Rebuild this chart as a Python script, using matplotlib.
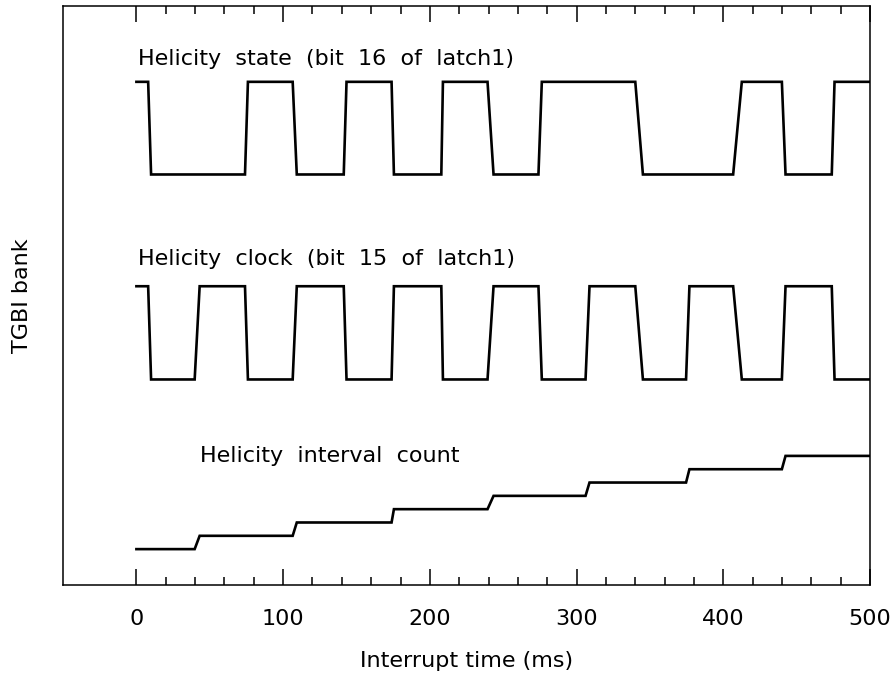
import numpy as np
import matplotlib.pyplot as plt

# sample times (ms) and the three TGBI signals
t = [0, 8, 10, 39.7, 43.1, 74, 76, 106.5, 109.3, 141.3, 143.2, 173.9, 175.5,
     207.8, 208.9, 239.3, 243.4, 274, 276.3, 306.1, 308.8, 340, 345.2, 374.6,
     376.9, 406.7, 412.6, 439.9, 442.4, 473.9, 475.8, 500]
state = [1, 1, 0, 0, 0, 0, 1, 1, 0, 0, 1, 1, 0, 0, 1, 1,
         0, 0, 1, 1, 1, 1, 0, 0, 0, 0, 1, 1, 0, 0, 1, 1]
clock = [1, 1, 0, 0, 1, 1, 0, 0, 1, 1, 0, 0, 1, 1, 0, 0,
         1, 1, 0, 0, 1, 1, 0, 0, 1, 1, 0, 0, 1, 1, 0, 0]
count = [0, 0, 0, 0, 1, 1, 1, 1, 2, 2, 2, 2, 3, 3, 3, 3,
         4, 4, 4, 4, 5, 5, 5, 5, 6, 6, 6, 6, 7, 7, 7, 7]

# pgplot-style wide word spacing
labels = ["Helicity  state  (bit  16  of  latch1)",
          "Helicity  clock  (bit  15  of  latch1)",
          "Helicity  interval  count"]
xticks = [0, 100, 200, 300, 400, 500]

t = np.array(t)
state = np.array(state)
clock = np.array(clock)
count = np.array(count)

fig = plt.figure(figsize=(8.93, 6.79), dpi=100)
ax = fig.add_axes([0.0706, 0.1384, 0.9037, 0.8528])

lw = 1.9
ax.plot(t, 70.9 + 16.0*state, color="black", lw=lw, solid_joinstyle="miter")
ax.plot(t, 35.5 + 16.1*clock, color="black", lw=lw, solid_joinstyle="miter")
ax.plot(t, 6.2 + 2.3*count, color="black", lw=lw, solid_joinstyle="miter")

fs = 16
ax.text(1, 89.8, labels[0], fontsize=fs, va="baseline", ha="left")
ax.text(1, 55.3, labels[1], fontsize=fs, va="baseline", ha="left")
ax.text(43.5, 21.3, labels[2], fontsize=fs, va="baseline", ha="left")

ax.set_xlim(-50, 500)
ax.set_ylim(0, 100)
ax.set_xticks(xticks)
ax.set_xticks(np.arange(0, 501, 20), minor=True)
ax.set_yticks([])
ax.tick_params(axis="x", which="both", direction="in", top=True, bottom=True,
               labelsize=fs, pad=17, width=1.1)
ax.tick_params(axis="x", which="major", length=11.5)
ax.tick_params(axis="x", which="minor", length=5.5)
for s in ax.spines.values():
    s.set_linewidth(1.1)

ax.set_xlabel("Interrupt time (ms)", fontsize=fs, labelpad=16)
ax.set_ylabel("TGBI bank", fontsize=fs, labelpad=22)

fig.savefig("out.png", dpi=100)
